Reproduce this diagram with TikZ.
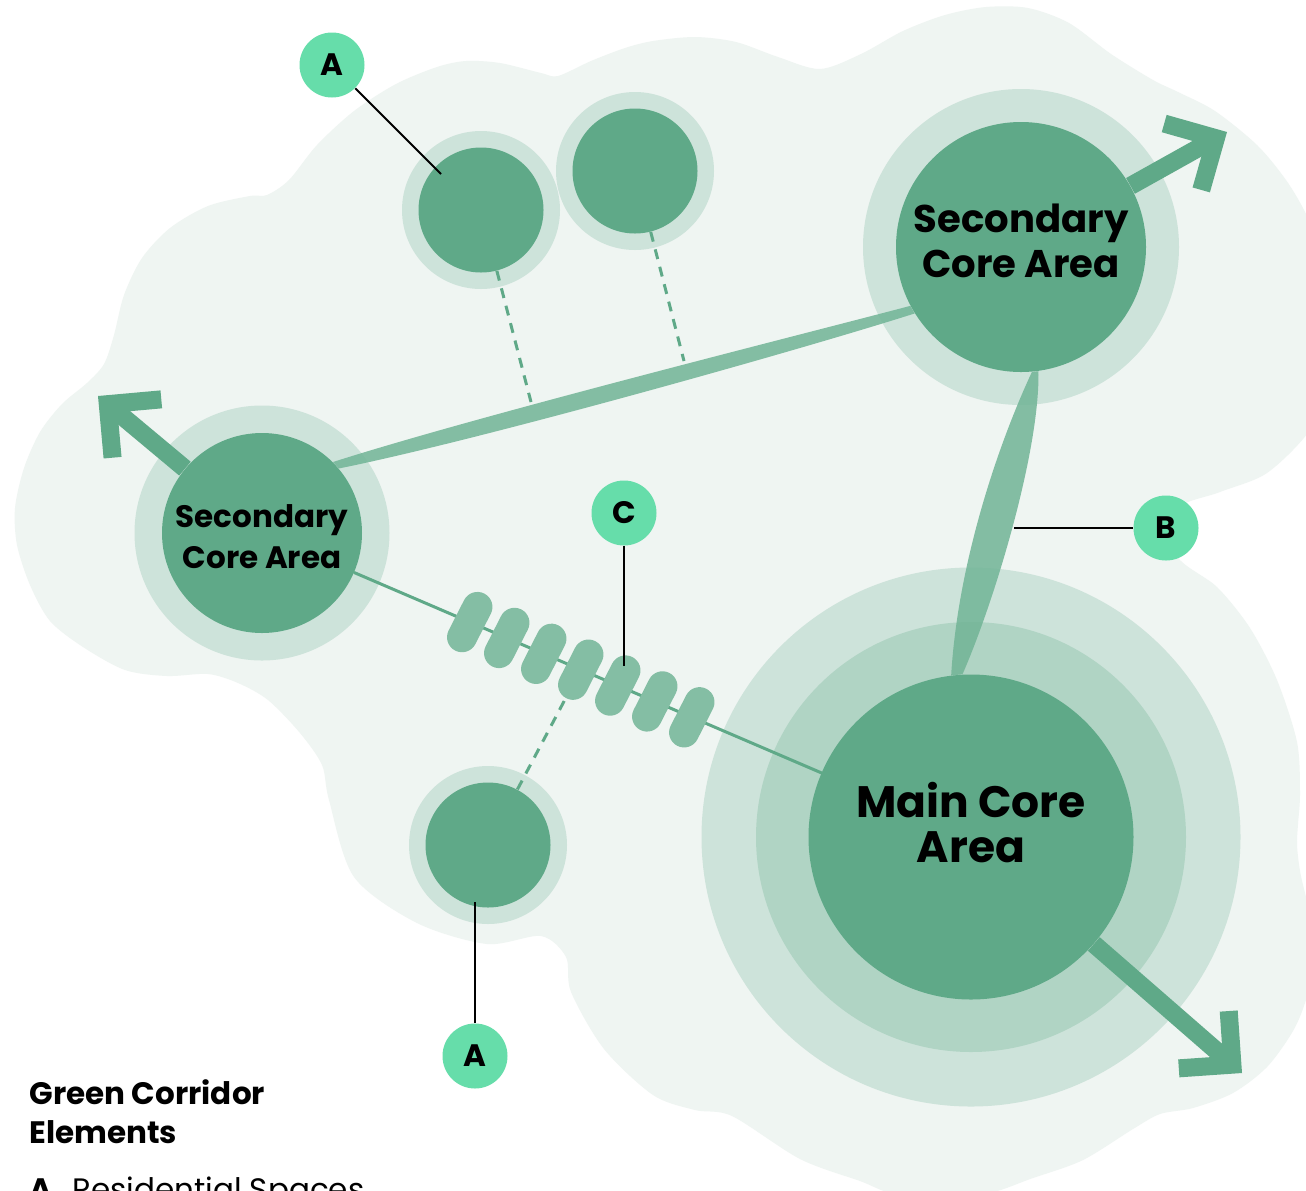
\documentclass[tikz,border=0pt]{standalone}
\usepackage{fontspec}
\setmainfont{Poppins}
\usetikzlibrary{arrows.meta,calc,backgrounds}
\definecolor{corridorgreen}{RGB}{95,169,136}
\definecolor{corridorsage}{RGB}{113,180,150}
\definecolor{corridorring}{RGB}{205,227,218}
\definecolor{corridorhalo}{RGB}{176,212,196}
\definecolor{corridorfog}{RGB}{239,245,242}
\definecolor{corridormint}{RGB}{102,221,170}

\begin{document}
\begin{tikzpicture}[x=.5pt,y=-.5pt,line cap=round,line join=round,
  coredisc/.style={circle,fill=corridorgreen,inner sep=0pt},
  coretext/.style={align=center,inner sep=0pt},
  badge/.style={circle,fill=corridormint,minimum size=32.5pt,inner sep=0pt,
    font=\bfseries\fontsize{15.5pt}{15.5pt}\selectfont},
  leaderline/.style={black,line width=1pt,line cap=butt},
  corridorlens/.style={fill=corridorsage,fill opacity=.85},
  steppingstone/.style={rectangle,rounded corners=7.5pt,minimum width=32pt,
    minimum height=15pt,inner sep=0pt,rotate=63,fill=corridorsage!85!corridorfog},
  dashedlink/.style={corridorgreen,line width=1.5pt,line cap=butt,
    dash pattern=on 5pt off 4pt},
  outflow/.style={corridorgreen,line width=9pt,line cap=butt,
    -{Straight Barb[sharp,length=19pt,width=38pt]}}]
 \useasboundingbox (0,0) rectangle (1306,1190);
 % Core areas and residential patches.
 \node[coredisc,minimum size=125pt] (sec-ne) at (1021,247) {};
 \node[coredisc,minimum size=100pt] (sec-w) at (262,533) {};
 \node[coredisc,minimum size=162.5pt] (main) at (971,837) {};
 \node[coredisc,minimum size=62.5pt] (res-1) at (481,210) {};
 \node[coredisc,minimum size=62.5pt] (res-2) at (635,171) {};
 \node[coredisc,minimum size=62.5pt] (res-3) at (488,845) {};
 \begin{scope}[on background layer]
  \fill[white] (0,0) rectangle (1306,1190);
  % Green patch behind everything.
  \fill[corridorfog] plot[smooth cycle,tension=.5] coordinates {
   (267,195) (289,180) (317,145) (354,111) (396,84) (437,67) (466,61)
   (500,63) (541,73) (558,76) (591,61) (625,48) (653,41) (695,37)
   (736,42) (778,57) (820,69) (861,54) (903,31) (945,15) (986,7)
   (1028,8) (1069,23) (1111,54) (1153,80) (1178,92) (1215,111)
   (1257,145) (1286,180) (1306,214) (1325,260) (1335,320) (1330,380)
   (1310,430) (1267,473) (1220,492) (1175,510) (1177,556) (1217,587)
   (1250,628) (1277,680) (1297,742) (1300,793) (1298,824) (1297,845)
   (1300,871) (1306,897) (1320,950) (1306,1000) (1293,1031) (1267,1067)
   (1233,1093) (1193,1108) (1160,1114) (1133,1129) (1083,1160)
   (1033,1178) (980,1195) (900,1195) (860,1181) (800,1159) (732,1116)
   (695,1110) (653,1095) (604,1049) (571,992) (566,957) (541,936)
   (487,944) (417,923) (354,877) (329,800) (322,765) (300,733)
   (268,700) (238,683) (208,674) (167,676) (125,670) (83,647) (50,621)
   (30,585) (17,545) (15,508) (24,468) (40,432) (62,404) (87,383)
   (104,364) (114,335) (124,295) (142,258) (170,228) (208,206) (250,196)};
  % Buffer rings.
  \fill[corridorring] (sec-ne) circle (79pt);
  \fill[corridorring] (sec-w) circle (63.75pt);
  \fill[corridorring] (main) circle (134.75pt);
  \fill[corridorhalo] (main) circle (107.5pt);
  \fill[corridorring] (res-1) circle (39.5pt);
  \fill[corridorring] (res-2) circle (39.5pt);
  \fill[corridorring] (res-3) circle (39.5pt);
  % Continuous corridors.
  \fill[corridorlens] (sec-w.45) .. controls (480,415) and (800,335) .. (sec-ne.208)
   -- (sec-ne.212) .. controls (800,350) and (480,440) .. (sec-w.40) -- cycle;
  \fill[corridorlens] (sec-ne.275) .. controls (1000,440) and (958,560) .. (main.97)
   -- (main.93) .. controls (995,600) and (1040,450) .. (sec-ne.278) -- cycle;
 \end{scope}
 % Stepping-stone corridor.
 \draw[corridorgreen,line width=1.5pt] (sec-w) -- (main);
 \foreach \i [evaluate=\i as \t using .293+.0522*\i] in {0,...,6}
  \node[steppingstone] (stone-\i) at ($(sec-w)!\t!(main)$) {};
 % Links from the residential patches.
 \coordinate (link-1) at (531,402);
 \coordinate (link-2) at (684,361);
 \draw[dashedlink] (res-1) -- (link-1);
 \draw[dashedlink] (res-2) -- (link-2);
 \draw[dashedlink] (res-3) -- (stone-3);
 % Outward links.
 \coordinate (out-ne) at (1227,132);
 \coordinate (out-w) at (98,396);
 \coordinate (out-se) at (1242,1073);
 \draw[outflow] (sec-ne) -- (out-ne);
 \draw[outflow] (sec-w) -- (out-w);
 \draw[outflow] (main) -- (out-se);
 % Texts in the cores.
 \node[coretext,font=\bfseries\fontsize{19.3pt}{22.5pt}\selectfont] (sec-ne-text)
  at ([yshift=3pt]sec-ne.center) {Secondary\\Core Area};
 \node[coretext,font=\bfseries\fontsize{15.5pt}{20.5pt}\selectfont] (sec-w-text)
  at ([yshift=-2pt]sec-w.center) {Secondary\\Core Area};
 \node[coretext,font=\bfseries\fontsize{22pt}{22.5pt}\selectfont] (main-text)
  at ([yshift=7pt]main.center) {Main Core\\Area};
 % Badges and leader lines.
 \node[badge] (tag-a1) at (332,65) {A};
 \node[badge] (tag-a2) at (475,1056) {A};
 \node[badge] (tag-b) at (1166,528) {B};
 \node[badge] (tag-c) at (624,513) {C};
 \coordinate (pin-a1) at (441,174);
 \coordinate (pin-a2) at (475,902);
 \coordinate (pin-b) at (1014,528);
 \coordinate (pin-c) at (624,666);
 \draw[leaderline] (tag-a1) -- (pin-a1);
 \draw[leaderline] (tag-a2) -- (pin-a2);
 \draw[leaderline] (tag-b) -- (pin-b);
 \draw[leaderline] (tag-c) -- (pin-c);
 % Legend.
 \node[anchor=north west,align=left,inner sep=0pt,
  font=\bfseries\fontsize{15.5pt}{19.5pt}\selectfont] (legend-title)
  at (29,1079) {Green Corridor\\Elements};
 \node[anchor=north west,inner sep=0pt,font=\fontsize{15.5pt}{19.5pt}\selectfont]
  (legend-a) at (29,1176) {\textbf{A}\hspace{10pt}Residential Spaces};
\end{tikzpicture}
\end{document}
